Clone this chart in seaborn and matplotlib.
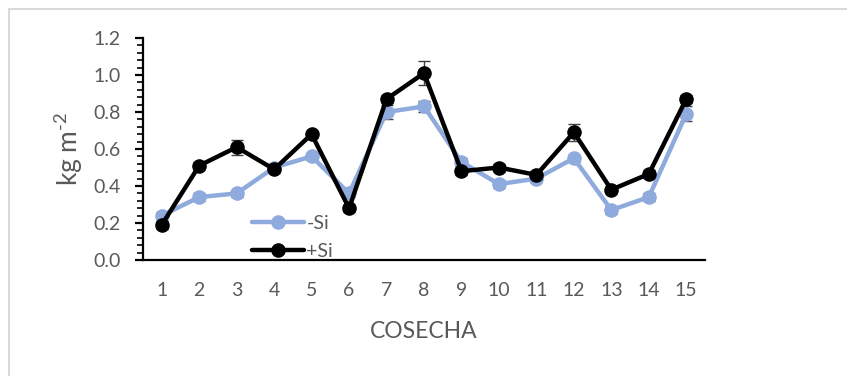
import numpy as np
import pandas as pd
import matplotlib
matplotlib.use("Agg")
import matplotlib.pyplot as plt
from matplotlib.ticker import MultipleLocator
from matplotlib.lines import Line2D
import seaborn as sns

# Harvest numbers and yield (kg m-2) for each treatment
cosecha = list(range(1, 16))
sin_si = [0.24, 0.34, 0.36, 0.50, 0.56, 0.36, 0.80, 0.83, 0.53, 0.41, 0.44, 0.55, 0.27, 0.34, 0.79]
con_si = [0.19, 0.51, 0.61, 0.49, 0.68, 0.28, 0.87, 1.01, 0.48, 0.50, 0.46, 0.69, 0.38, 0.465, 0.87]
err_sin = [0.02, 0.02, 0.02, 0.02, 0.02, 0.02, 0.04, 0.03, 0.02, 0.02, 0.02, 0.02, 0.02, 0.02, 0.04]
err_con = [0.02, 0.02, 0.04, 0.02, 0.02, 0.02, 0.02, 0.065, 0.02, 0.02, 0.02, 0.045, 0.02, 0.02, 0.02]
tratamientos = ["-Si", "+Si"]
colores = {"-Si": "#8FAADC", "+Si": "#000000"}

df = pd.DataFrame({
    "COSECHA": cosecha * 2,
    "valor": sin_si + con_si,
    "err": err_sin + err_con,
    "trat": ["-Si"] * 15 + ["+Si"] * 15,
})

sns.set_style("white")
plt.rcParams["font.family"] = ["Lato", "DejaVu Sans"]
plt.rcParams["mathtext.fontset"] = "custom"
plt.rcParams["mathtext.rm"] = "Lato"
text_color = "#595959"

fig = plt.figure(figsize=(8.47, 3.76), dpi=100)
ax = fig.add_axes([143 / 847, 1 - 260 / 376, (705 - 143) / 847, (260 - 38) / 376])

# error bars first, lines and markers on top
for t in tratamientos:
    sub = df[df["trat"] == t]
    ax.errorbar(sub["COSECHA"], sub["valor"], yerr=sub["err"], fmt="none",
                ecolor="#404040", elinewidth=1.0, capsize=4, capthick=1.0, zorder=1)

sns.lineplot(data=df, x="COSECHA", y="valor", hue="trat", hue_order=tratamientos,
             palette=colores, marker="o", markersize=10.5, markeredgewidth=0,
             linewidth=3.2, legend=False, ax=ax, zorder=3)

ax.set_xlim(0.5, 15.5)
ax.set_ylim(0, 1.2)
ax.set_xticks(cosecha)
ax.set_xticklabels([str(c) for c in cosecha])
ax.yaxis.set_major_locator(MultipleLocator(0.2))
ax.yaxis.set_minor_locator(MultipleLocator(0.04))
ax.yaxis.set_major_formatter(matplotlib.ticker.FormatStrFormatter("%.1f"))

for s in ["top", "right"]:
    ax.spines[s].set_visible(False)
for s in ["left", "bottom"]:
    ax.spines[s].set_visible(True)
    ax.spines[s].set_color("black")
    ax.spines[s].set_linewidth(1.6)

ax.tick_params(axis="y", which="major", direction="out", length=6, width=1.6,
               color="black", labelsize=14, labelcolor=text_color, pad=10, left=True)
ax.tick_params(axis="y", which="minor", direction="out", length=4, width=1.2,
               color="black", left=True)
ax.tick_params(axis="x", which="both", length=0, labelsize=14,
               labelcolor=text_color, pad=16)

ax.set_xlabel("COSECHA", fontsize=16.5, color=text_color, labelpad=16)
ax.set_ylabel("kg m$^{\\text{-2}}$", fontsize=19, color=text_color, labelpad=6)

handles = [Line2D([0], [0], color=colores[t], marker="o", markersize=10.5,
                  markeredgewidth=0, linewidth=3.2) for t in tratamientos]
leg = ax.legend(handles, tratamientos, loc="lower left", bbox_to_anchor=(0.18, -0.035),
                frameon=False, fontsize=14, handlelength=2.7, handletextpad=0.1,
                labelspacing=0.55, borderaxespad=0)
for txt in leg.get_texts():
    txt.set_color(text_color)

# light frame along the top and left edges of the figure
fig.add_artist(Line2D([9 / 847, 1], [1 - 9 / 376, 1 - 9 / 376], color="#D9D9D9",
                      linewidth=1.5, transform=fig.transFigure))
fig.add_artist(Line2D([9 / 847, 9 / 847], [0, 1 - 9 / 376], color="#D9D9D9",
                      linewidth=1.5, transform=fig.transFigure))

fig.savefig("out.png", dpi=100, facecolor="white")
